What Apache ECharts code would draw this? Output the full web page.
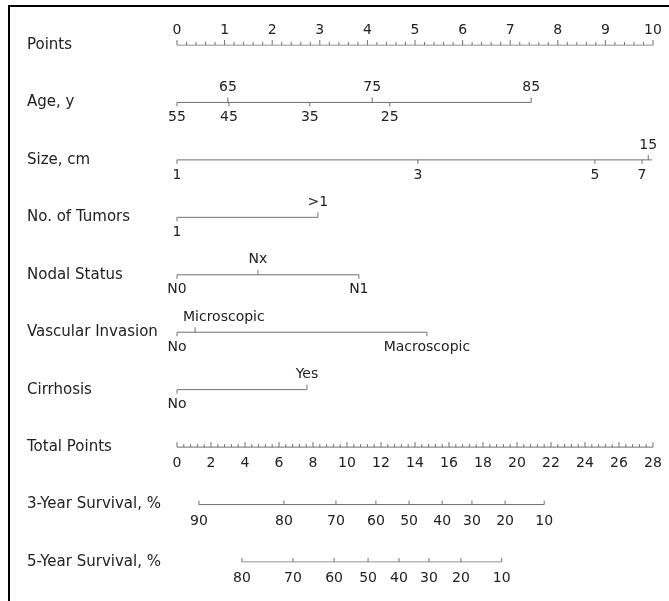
<!DOCTYPE html>
<html>
<head>
<meta charset="utf-8">
<script src="https://cdn.jsdelivr.net/npm/echarts@6/dist/echarts.min.js"></script>
<style>html,body{margin:0;padding:0;background:#fff;}#c{width:669px;height:601px;}</style>
</head>
<body>
<div id="c"></div>
<script>
// ---------- data ----------
const rowNames = ['Points','Age, y','Size, cm','No. of Tumors','Nodal Status','Vascular Invasion','Cirrhosis','Total Points','3-Year Survival, %','5-Year Survival, %'];

const pointsLabels = ['0','1','2','3','4','5','6','7','8','9','10'];
const pointsValues = [0,1,2,3,4,5,6,7,8,9,10];
const pointsMinorStep = 0.2;

const ageUpperLabels = ['65','75','85'];
const ageUpperPoints = [1.07, 4.10, 7.44];
const ageLowerLabels = ['55','45','35','25'];
const ageLowerPoints = [0, 1.09, 2.79, 4.47];

const sizeUpperLabels = ['15'];
const sizeUpperPoints = [9.90];
const sizeLowerLabels = ['1','3','5','7'];
const sizeLowerPoints = [0, 5.06, 8.78, 9.77];
const sizeLineEnd = 9.98;

const tumorsUpperLabels = ['>1'];
const tumorsUpperPoints = [2.96];
const tumorsLowerLabels = ['1'];
const tumorsLowerPoints = [0];

const nodalUpperLabels = ['Nx'];
const nodalUpperPoints = [1.70];
const nodalLowerLabels = ['N0','N1'];
const nodalLowerPoints = [0, 3.82];

const vascUpperLabels = ['Microscopic'];
const vascUpperPoints = [0.38];
const vascLowerLabels = ['No','Macroscopic'];
const vascLowerPoints = [0, 5.25];

const cirrUpperLabels = ['Yes'];
const cirrUpperPoints = [2.73];
const cirrLowerLabels = ['No'];
const cirrLowerPoints = [0];

const totalLabels = ['0','2','4','6','8','10','12','14','16','18','20','22','24','26','28'];
const totalValues = [0,2,4,6,8,10,12,14,16,18,20,22,24,26,28];
const totalMinorStep = 0.4;

const surv3Labels = ['90','80','70','60','50','40','30','20','10'];
const surv3Total = [1.29, 6.29, 9.35, 11.7, 13.65, 15.6, 17.35, 19.3, 21.6];
const surv5Labels = ['80','70','60','50','40','30','20','10'];
const surv5Total = [3.82, 6.82, 9.24, 11.24, 13.06, 14.82, 16.7, 19.1];

// ---------- helpers ----------
const FONT = '"DejaVu Sans", sans-serif';
const FS = 14;
const LINE = '#707070';
const TXT = '#222';
const GRID_LEFT = 177;
const measureCtx = document.createElement('canvas').getContext('2d');
measureCtx.font = FS + 'px ' + FONT;

const series = [];

function addLine(row, xIdx, from, to) {
  series.push({
    type: 'line', xAxisIndex: xIdx, yAxisIndex: 0, silent: true, symbol: 'none',
    lineStyle: { color: LINE, width: 1 }, animation: false,
    data: [[from, row], [to, row]]
  });
}

// tickDir: -1 = tick up, 1 = tick down; labelSide: -1 above, 1 below
function addTicks(row, xIdx, values, labels, tickDir, tickLen, labelSide) {
  series.push({
    type: 'custom', xAxisIndex: xIdx, yAxisIndex: 0, silent: true, animation: false,
    data: values.map(v => [v, row]),
    renderItem: function (params, api) {
      const p = api.coord([api.value(0), row]);
      const children = [{
        type: 'line',
        shape: { x1: p[0], y1: p[1], x2: p[0], y2: p[1] + tickDir * tickLen },
        style: { stroke: LINE, lineWidth: 1 }
      }];
      if (labels) {
        const t = labels[params.dataIndex];
        const w = measureCtx.measureText(t).width;
        let x = p[0], align = 'center';
        if (x - w / 2 < GRID_LEFT - 20) { x = GRID_LEFT + 6; align = 'left'; }
        children.push({
          type: 'text',
          style: {
            text: t, x: x, y: p[1] + labelSide * 15,
            align: align, verticalAlign: 'middle',
            fontSize: FS, fontFamily: FONT, fill: TXT
          }
        });
      }
      return { type: 'group', children: children };
    }
  });
}

function minorValues(max, step, majors) {
  const out = [];
  const n = Math.round(max / step);
  for (let i = 0; i <= n; i++) {
    const r = Math.round(i * step * 100) / 100;
    if (!majors.some(m => Math.abs(m - r) < 1e-6)) out.push(r);
  }
  return out;
}

// Row 0: Points
addLine(0, 0, 0, 10);
addTicks(0, 0, pointsValues, pointsLabels, -1, 5, -1);
addTicks(0, 0, minorValues(10, pointsMinorStep, pointsValues), null, -1, 3, -1);

function catRow(row, upP, upL, loP, loL, lineEnd) {
  const all = upP.concat(loP);
  addLine(row, 0, Math.min.apply(null, all), lineEnd != null ? lineEnd : Math.max.apply(null, all));
  addTicks(row, 0, upP, upL, -1, 5, -1);
  addTicks(row, 0, loP, loL, 1, 4, 1);
}
catRow(1, ageUpperPoints, ageUpperLabels, ageLowerPoints, ageLowerLabels);
catRow(2, sizeUpperPoints, sizeUpperLabels, sizeLowerPoints, sizeLowerLabels, sizeLineEnd);
catRow(3, tumorsUpperPoints, tumorsUpperLabels, tumorsLowerPoints, tumorsLowerLabels);
catRow(4, nodalUpperPoints, nodalUpperLabels, nodalLowerPoints, nodalLowerLabels);
catRow(5, vascUpperPoints, vascUpperLabels, vascLowerPoints, vascLowerLabels);
catRow(6, cirrUpperPoints, cirrUpperLabels, cirrLowerPoints, cirrLowerLabels);

// Row 7: Total Points
addLine(7, 1, 0, 28);
addTicks(7, 1, totalValues, totalLabels, -1, 5, 1.1);
addTicks(7, 1, minorValues(28, totalMinorStep, totalValues), null, -1, 3, 1);

// Rows 8, 9: survival
addLine(8, 1, Math.min.apply(null, surv3Total), Math.max.apply(null, surv3Total));
addTicks(8, 1, surv3Total, surv3Labels, -1, 4, 1.1);
addLine(9, 1, Math.min.apply(null, surv5Total), Math.max.apply(null, surv5Total));
addTicks(9, 1, surv5Total, surv5Labels, -1, 4, 1.1);

const chart = echarts.init(document.getElementById('c'), null, { renderer: 'canvas' });
chart.setOption({
  animation: false,
  backgroundColor: '#fff',
  grid: { left: GRID_LEFT, right: 16, top: 45, bottom: 39, containLabel: false },
  xAxis: [
    { type: 'value', min: 0, max: 10, show: false },
    { type: 'value', min: 0, max: 28, show: false }
  ],
  yAxis: [{
    type: 'category', data: rowNames, inverse: true, boundaryGap: false,
    axisLine: { show: false }, axisTick: { show: false }, splitLine: { show: false },
    axisLabel: { align: 'left', margin: 150, fontSize: 15, fontFamily: FONT, color: TXT }
  }],
  graphic: [
    { type: 'line', shape: { x1: 8, y1: 6, x2: 669, y2: 6 }, style: { stroke: '#000', lineWidth: 2 } },
    { type: 'line', shape: { x1: 9, y1: 5, x2: 9, y2: 601 }, style: { stroke: '#000', lineWidth: 2 } }
  ],
  series: series
});
</script>
</body>
</html>
